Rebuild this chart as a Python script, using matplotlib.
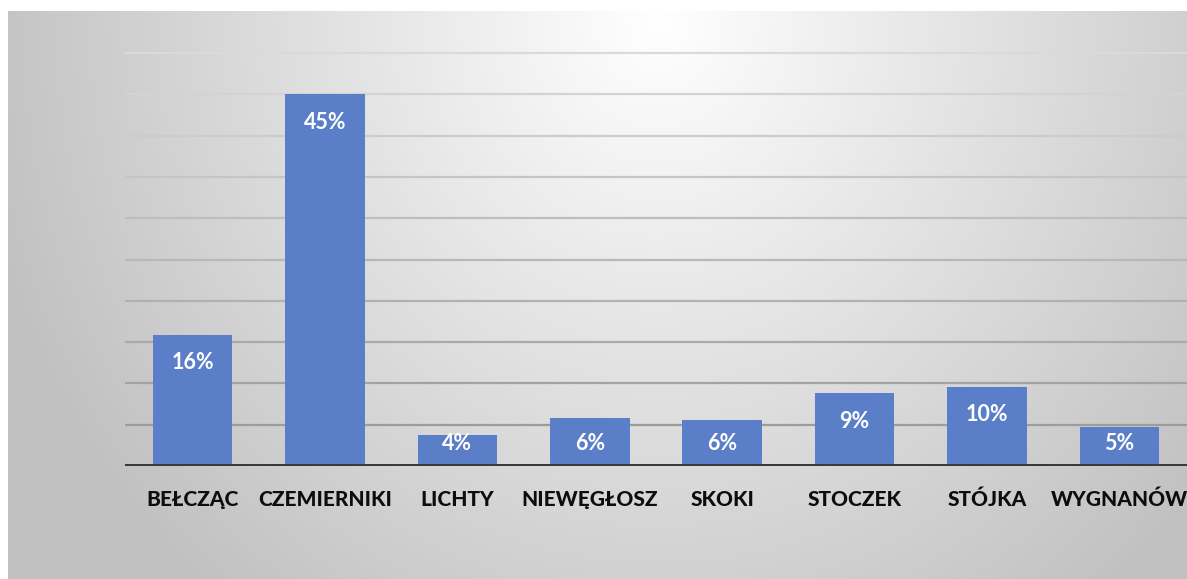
import numpy as np
import matplotlib
matplotlib.use("Agg")
import matplotlib.pyplot as plt
from matplotlib.colors import to_rgb

# Data
villages = ["BEŁCZĄC", "CZEMIERNIKI", "LICHTY", "NIEWĘGŁOSZ", "SKOKI",
            "STOCZEK", "STÓJKA", "WYGNANÓW"]
shares = [15.9, 45.0, 3.8, 5.8, 5.6, 8.8, 9.6, 4.7]
share_labels = ["16%", "45%", "4%", "6%", "6%", "9%", "10%", "5%"]

W, H = 1187, 579
fig = plt.figure(figsize=(W / 100, H / 100), dpi=100, facecolor="white")
plt.rcParams["font.family"] = ["Lato", "DejaVu Sans"]

# radial grey background (chart area)
bg = fig.add_axes([8 / W, 0, 1 - 8 / W, 1 - 11 / H], zorder=0)
yy, xx = np.mgrid[0:568, 0:1179]
r = np.sqrt(((xx - 650) / 650.0) ** 2 + ((yy - 10) / 700.0) ** 2)
g = np.clip(255 - 58 * r, 192, 255) / 255.0
bg.imshow(np.dstack([g, g, g]), aspect="auto", interpolation="bilinear")
bg.axis("off")

# main axes
px_per = (466 - 53) / 50.0
top_px = 466 - 50.5 * px_per
ax = fig.add_axes([125 / W, 1 - 466 / H, 1062 / W, (466 - top_px) / H], zorder=1)
ax.patch.set_alpha(0)

x = np.arange(len(villages))
ax.bar(x, shares, width=0.6, color="#5a7fc8", zorder=2)

ax.set_xlim(-0.51, len(villages) - 0.49)
ax.set_ylim(0, 50.5)
ax.set_yticks(np.arange(5, 55, 5))
ax.yaxis.grid(True, linewidth=1.6)
ax.set_axisbelow(True)
lines = ax.get_ygridlines()
c_top = np.array(to_rgb("#dadada"))
c_bot = np.array(to_rgb("#9c9c9c"))
n = len(lines)
for i, ln in enumerate(lines):
    t = i / (n - 1)
    ln.set_color(c_bot * (1 - t) + c_top * t)

ax.axhline(0, color="#3a3a3a", linewidth=3.6, zorder=3)

for s in ax.spines.values():
    s.set_visible(False)
ax.tick_params(axis="y", left=False, labelleft=False)
ax.tick_params(axis="x", length=0, pad=17)
ax.set_xticks(x)
ax.set_xticklabels(villages, fontsize=15, fontweight="black", color="#0d0d0d")

for xi, v, lab in zip(x, shares, share_labels):
    ax.text(xi, max(v - 3.4, 2.7), lab, ha="center", va="center",
            color="white", fontsize=15.5, fontweight="bold", zorder=4)

fig.savefig("out.png", dpi=100, facecolor="white")
